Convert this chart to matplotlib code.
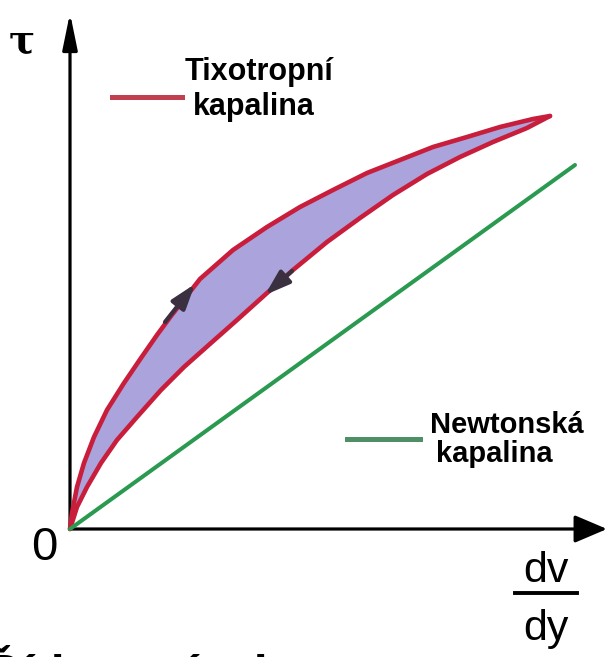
import numpy as np
import matplotlib
matplotlib.use("Agg")
from matplotlib import pyplot as plt

# shear rate (dv/dy) and shear stress (tau), arbitrary units
up_x = [0, 0.02, 0.07, 0.14, 0.24, 0.37, 0.54, 0.71, 0.87, 1.01, 1.30, 1.63, 1.97,
        2.30, 2.63, 2.97, 3.30, 3.63, 3.97, 4.30, 4.63, 4.80]
up_y = [0, 0.16, 0.42, 0.66, 0.92, 1.19, 1.46, 1.71, 1.94, 2.13, 2.50, 2.79, 3.02,
        3.22, 3.39, 3.56, 3.69, 3.82, 3.92, 4.02, 4.10, 4.13]
down_x = [0, 0.07, 0.17, 0.31, 0.47, 0.67, 0.91, 1.14, 1.41, 1.67, 1.97, 2.23,
          2.57, 2.90, 3.23, 3.57, 3.90, 4.23, 4.57, 4.80]
down_y = [0, 0.22, 0.42, 0.66, 0.89, 1.12, 1.39, 1.62, 1.86, 2.09, 2.36, 2.59,
          2.87, 3.11, 3.34, 3.55, 3.72, 3.87, 4.01, 4.13]
newton_x = [0, 5.05]
newton_y = [0, 3.64]

red = "#c81e3c"
green = "#2a9a50"
fill_col = "#aaa3dc"

plt.rcParams['font.family'] = ['Liberation Sans', 'DejaVu Sans']

fig = plt.figure(figsize=(6.08, 6.57), dpi=100)
ax = fig.add_axes([0, 0, 1, 1])
ax.set_xlim(-0.70, 5.38)
ax.set_ylim(-1.28, 5.29)
ax.axis('off')

# axes with arrows
ax.annotate('', xy=(5.37, 0), xytext=(0, 0),
            arrowprops=dict(arrowstyle='-|>,head_length=2.0,head_width=0.85',
                            lw=2.3, color='k', shrinkA=0, shrinkB=0))
ax.annotate('', xy=(0, 5.16), xytext=(0, 0),
            arrowprops=dict(arrowstyle='-|>,head_length=2.2,head_width=0.45',
                            lw=2.3, color='k', shrinkA=0, shrinkB=0))

# hysteresis loop
loop_x = np.concatenate([up_x, down_x[::-1]])
loop_y = np.concatenate([up_y, down_y[::-1]])
ax.fill(loop_x, loop_y, color=fill_col, lw=0, zorder=2)
ax.plot(up_x, up_y, color=red, lw=3.3, solid_capstyle='round', solid_joinstyle='round', zorder=3)
ax.plot(down_x, down_y, color=red, lw=3.3, solid_capstyle='round', solid_joinstyle='round', zorder=3)
ax.plot(newton_x, newton_y, color=green, lw=2.9, solid_capstyle='round', zorder=3)

# direction arrows on the loop
arrow_kw = dict(arrowstyle='-|>,head_length=1.5,head_width=0.5', lw=3,
                color='#3a3040', shrinkA=0, shrinkB=0)
ax.annotate('', xy=(1.25, 2.45), xytext=(0.95, 2.07), arrowprops=arrow_kw, zorder=4)
ax.annotate('', xy=(1.95, 2.34), xytext=(2.22, 2.58), arrowprops=arrow_kw, zorder=4)

# legend entries
ax.plot([0.42, 1.12], [4.32, 4.32], color='#c04050', lw=3.6)
ax.text(1.15, 4.49, 'Tixotropní', fontsize=22, fontweight='bold', va='baseline')
ax.text(1.23, 4.14, 'kapalina', fontsize=22, fontweight='bold', va='baseline')
ax.plot([2.77, 3.50], [0.90, 0.90], color='#4f8f66', lw=3.6)
ax.text(3.60, 0.96, 'Newtonská', fontsize=21, fontweight='bold', va='baseline')
ax.text(3.66, 0.67, 'kapalina', fontsize=21, fontweight='bold', va='baseline')

# labels
ax.text(-0.48, 4.87, 'τ', fontsize=28, fontweight='bold', family='DejaVu Serif',
        ha='center', va='center')
ax.text(-0.26, -0.19, '0', fontsize=34, ha='center', va='center')
ax.text(4.76, -0.53, 'dv', fontsize=31, ha='center', va='baseline')
ax.text(4.76, -1.11, 'dy', fontsize=31, ha='center', va='baseline')
ax.plot([4.45, 5.07], [-0.64, -0.64], color='k', lw=2.8)

# title cut off at the bottom edge (only accents and ascenders show)
ax.text(-0.86, -1.615, 'Řídnoucí a komory', fontsize=36,
        fontweight='bold', ha='left', va='baseline')

fig.savefig('out.png', dpi=100)
